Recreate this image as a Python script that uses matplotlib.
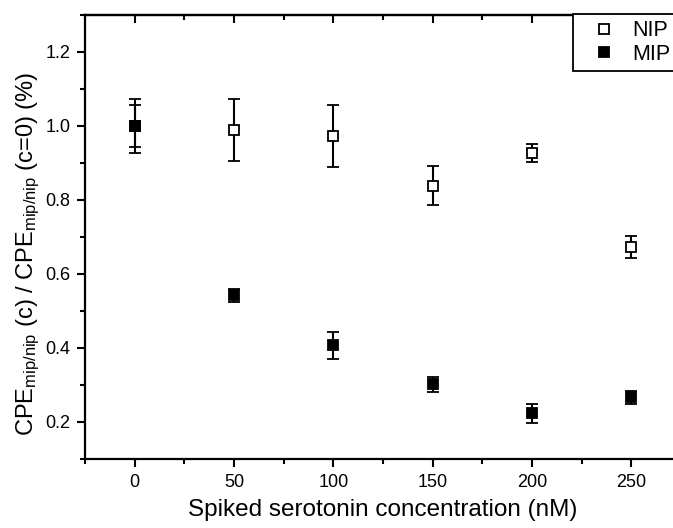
import numpy as np
import matplotlib
matplotlib.use('Agg')
import matplotlib.pyplot as plt
from matplotlib.ticker import MultipleLocator
from matplotlib.lines import Line2D

# data
conc = [0, 50, 100, 150, 200, 250]
nip_mean = [1.000, 0.989, 0.973, 0.839, 0.927, 0.672]
nip_err = [0.057, 0.084, 0.084, 0.052, 0.024, 0.030]
mip_mean = [1.000, 0.542, 0.407, 0.302, 0.223, 0.267]
mip_err = [0.074, 0.017, 0.036, 0.020, 0.027, 0.018]

fam = 'Liberation Sans'
plt.rcParams['font.family'] = [fam, 'DejaVu Sans']
plt.rcParams['mathtext.fontset'] = 'custom'
plt.rcParams['mathtext.rm'] = fam
plt.rcParams['mathtext.it'] = fam

fig = plt.figure(figsize=(6.73, 5.28), dpi=100)
ax = fig.add_axes([85/673, 1 - 459/528, 596/673, 444/528])

ax.errorbar(conc, nip_mean, yerr=nip_err, fmt='s', color='black', mfc='white',
            mec='black', ms=6.5, mew=1.3, elinewidth=1.5, capsize=4.5, capthick=1.5,
            zorder=3)
ax.errorbar(conc, mip_mean, yerr=mip_err, fmt='s', color='black', mfc='black',
            mec='black', ms=6.5, mew=1.3, elinewidth=1.5, capsize=4.5, capthick=1.5,
            zorder=4)

ax.set_xlim(-25, 275)
ax.set_ylim(0.1, 1.3)
ax.xaxis.set_major_locator(MultipleLocator(50))
ax.xaxis.set_minor_locator(MultipleLocator(25))
ax.yaxis.set_minor_locator(MultipleLocator(0.1))
ax.set_yticks([0.2, 0.4, 0.6, 0.8, 1.0, 1.2])
ax.set_yticklabels(['0.2', '0.4', '0.6', '0.8', '1.0', '1.2'])

for s in ax.spines.values():
    s.set_linewidth(1.6)
ax.tick_params(which='major', direction='out', length=5.5, width=1.5, labelsize=13, pad=5)
ax.tick_params(which='minor', direction='out', length=3.5, width=1.5)

# mirrored ticks on top and right point inwards
top = ax.secondary_xaxis('top')
top.xaxis.set_major_locator(MultipleLocator(50))
top.xaxis.set_minor_locator(MultipleLocator(25))
top.tick_params(which='major', direction='in', length=5.5, width=1.5, labeltop=False)
top.tick_params(which='minor', direction='in', length=3.5, width=1.5)
right = ax.secondary_yaxis('right')
right.yaxis.set_major_locator(MultipleLocator(0.2))
right.yaxis.set_minor_locator(MultipleLocator(0.1))
right.tick_params(which='major', direction='in', length=5.5, width=1.5, labelright=False)
right.tick_params(which='minor', direction='in', length=3.5, width=1.5)
for sa in (top, right):
    for s in sa.spines.values():
        s.set_linewidth(1.6)

ax.set_xlabel('Spiked serotonin concentration (nM)', fontsize=17.5, labelpad=6)
ax.set_ylabel(r'CPE$_{\mathrm{mip/nip}}$ (c) / CPE$_{\mathrm{mip/nip}}$ (c=0) (%)',
              fontsize=17, labelpad=6)
ax.yaxis.set_label_coords(-0.072, 0.462)

# legend on the figure so it covers the top ticks
handles = [Line2D([], [], ls='none', marker='s', ms=6.5, mew=1.3, mfc='white', mec='black'),
           Line2D([], [], ls='none', marker='s', ms=6.5, mew=1.3, mfc='black', mec='black')]
leg = fig.legend(handles, ['NIP', 'MIP'], loc='upper left',
                 bbox_to_anchor=(573/673, 1 - 14/528), borderaxespad=0,
                 frameon=True, fancybox=False, edgecolor='black', framealpha=1,
                 fontsize=15.5, handlelength=2.3, handletextpad=0.15,
                 borderpad=0.3, labelspacing=0.1)
leg.get_frame().set_linewidth(1.3)
leg.set_zorder(10)

fig.savefig('out.png', dpi=100)
